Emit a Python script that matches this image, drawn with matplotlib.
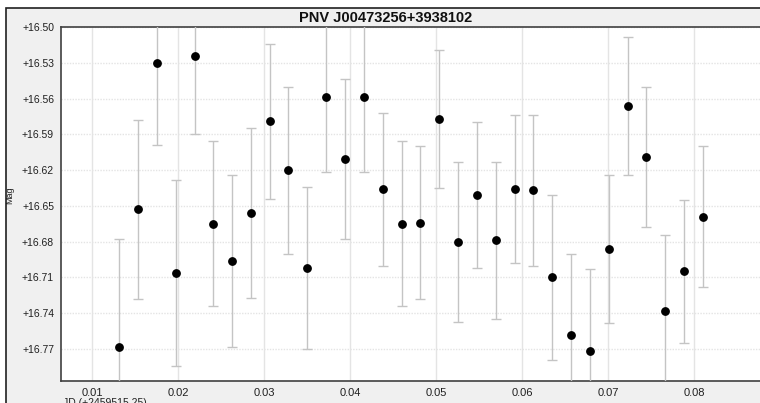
import matplotlib
matplotlib.use("Agg")
import matplotlib.pyplot as plt
from matplotlib.patches import Rectangle

title = "PNV J00473256+3938102"
x_label = "JD (+2459515.25)"
y_label = "Mag"

jd = [0.01317, 0.01538, 0.01754, 0.01976, 0.02193, 0.02411, 0.02632, 0.02849,
      0.03066, 0.03284, 0.03505, 0.03722, 0.03943, 0.04164, 0.04382, 0.04600,
      0.04816, 0.05037, 0.05258, 0.05476, 0.05697, 0.05915, 0.06132, 0.06353,
      0.06570, 0.06792, 0.07009, 0.07231, 0.07447, 0.07668, 0.07886, 0.08103]
mag = [16.768, 16.653, 16.530, 16.706, 16.524, 16.665, 16.696, 16.656,
       16.579, 16.620, 16.702, 16.559, 16.611, 16.559, 16.636, 16.665,
       16.664, 16.577, 16.680, 16.641, 16.679, 16.636, 16.637, 16.710,
       16.758, 16.772, 16.686, 16.566, 16.609, 16.738, 16.705, 16.659]
err = [0.090, 0.075, 0.069, 0.078, 0.066, 0.069, 0.072, 0.071,
       0.065, 0.070, 0.068, 0.063, 0.067, 0.063, 0.064, 0.069,
       0.064, 0.058, 0.067, 0.061, 0.066, 0.062, 0.063, 0.069,
       0.068, 0.069, 0.062, 0.058, 0.059, 0.064, 0.060, 0.059]

x_ticks = [0.01, 0.02, 0.03, 0.04, 0.05, 0.06, 0.07, 0.08]
y_ticks = [16.50, 16.53, 16.56, 16.59, 16.62, 16.65, 16.68, 16.71, 16.74, 16.77]

plt.rcParams['font.family'] = ['Liberation Sans', 'DejaVu Sans']

W, H = 760, 403
fig = plt.figure(figsize=(W / 100, H / 100), dpi=100, facecolor="white")

# panel background with border
panel = Rectangle((6 / W, -0.01), 1.0, (H - 8) / H + 0.01,
                  transform=fig.transFigure, facecolor="#f0f0f0",
                  edgecolor="#202020", linewidth=1.2, zorder=-10)
fig.patches.append(panel)

ax = fig.add_axes([61 / W, (H - 381) / H, 1.2, (381 - 27) / H])
ax.set_zorder(1)
ax.set_facecolor("white")

ax.errorbar(jd, mag, yerr=err, fmt="o", color="black", markersize=5.3,
            ecolor="#c4c4c4", elinewidth=1.0, capsize=3.5, capthick=1.0, zorder=3)

ax.set_xlim(0.00640, 0.00640 + (1.2 * W) / 8600)
ax.set_ylim(16.50 + (381 - 27) / 1192.6, 16.50)

ax.set_xticks(x_ticks)
ax.set_xticklabels([f"{v:.2f}" for v in x_ticks])
ax.set_yticks(y_ticks)
ax.set_yticklabels([f"+{v:.2f}" for v in y_ticks])
ax.tick_params(axis="both", length=0, colors="#202020")
ax.tick_params(axis="y", pad=5, labelsize=7.5)
ax.tick_params(axis="x", pad=5, labelsize=8)

ax.grid(axis="x", color="#e4e4e4", linewidth=1.0, linestyle="-", zorder=0)
ax.grid(axis="y", color="#e4e4e4", linewidth=1.0, linestyle=(0, (1, 1)), zorder=0)
ax.set_axisbelow(True)

for s in ["left", "bottom", "top"]:
    ax.spines[s].set_color("#404040")
    ax.spines[s].set_linewidth(1.2)
ax.spines["right"].set_visible(False)

fig.text(386 / W, (H - 17.5) / H, title, ha="center", va="center",
         fontsize=10.5, fontweight="bold", color="#101010")
fig.text(10 / W, (H - 195) / H, y_label, rotation=90, ha="center", va="center",
         fontsize=6.5, color="#202020")
fig.text(63 / W, (H - 397.5) / H, x_label, ha="left", va="top",
         fontsize=7.5, color="#202020")

fig.savefig("out.png", dpi=100, facecolor=fig.get_facecolor())
